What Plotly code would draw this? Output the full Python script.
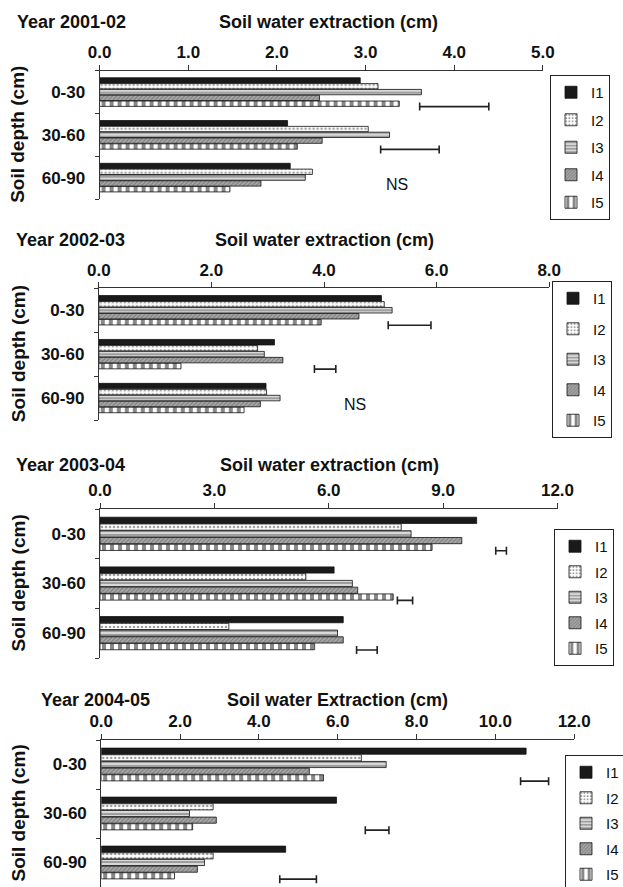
import plotly.graph_objects as go

# ---------------- data ----------------
depths = ["0-30", "30-60", "60-90"]
treatments = ["I1", "I2", "I3", "I4", "I5"]

# Year 2001-02 (cm) per treatment, depths 0-30, 30-60, 60-90
y0102_I1 = [2.94, 2.12, 2.15]
y0102_I2 = [3.14, 3.03, 2.40]
y0102_I3 = [3.63, 3.27, 2.32]
y0102_I4 = [2.48, 2.51, 1.82]
y0102_I5 = [3.38, 2.23, 1.47]

# Year 2002-03
y0203_I1 = [5.02, 3.12, 2.97]
y0203_I2 = [5.07, 2.82, 2.98]
y0203_I3 = [5.21, 2.94, 3.22]
y0203_I4 = [4.62, 3.27, 2.87]
y0203_I5 = [3.95, 1.46, 2.58]

# Year 2003-04
y0304_I1 = [9.88, 6.14, 6.38]
y0304_I2 = [7.90, 5.40, 3.38]
y0304_I3 = [8.16, 6.62, 6.23]
y0304_I4 = [9.49, 6.76, 6.38]
y0304_I5 = [8.71, 7.69, 5.63]

# Year 2004-05
y0405_I1 = [10.78, 5.97, 4.68]
y0405_I2 = [6.60, 2.84, 2.84]
y0405_I3 = [7.23, 2.24, 2.62]
y0405_I4 = [5.28, 2.92, 2.44]
y0405_I5 = [5.64, 2.32, 1.86]

# LSD bars (start, end) per depth index
lsd0102_depth = [0, 1]
lsd0102_lo = [3.61, 3.17]
lsd0102_hi = [4.39, 3.83]
lsd0203_depth = [0, 1]
lsd0203_lo = [5.14, 3.83]
lsd0203_hi = [5.90, 4.21]
lsd0304_depth = [0, 1, 2]
lsd0304_lo = [10.38, 7.80, 6.73]
lsd0304_hi = [10.66, 8.20, 7.27]
lsd0405_depth = [0, 1, 2]
lsd0405_lo = [10.64, 6.70, 4.53]
lsd0405_hi = [11.35, 7.30, 5.46]

# NS labels (x value, depth index)
ns0102 = (3.35, 2)
ns0203 = (4.55, 2)

year_labels = ["Year 2001-02", "Year 2002-03", "Year 2003-04", "Year 2004-05"]
x_titles = ["Soil water extraction (cm)", "Soil water extraction (cm)",
            "Soil water extraction (cm)", "Soil water Extraction (cm)"]
x_max = [5.0, 8.0, 12.0, 12.0]
x_dtick = [1.0, 2.0, 3.0, 2.0]

panels = [
    dict(vals=[y0102_I1, y0102_I2, y0102_I3, y0102_I4, y0102_I5],
         lsd=(lsd0102_depth, lsd0102_lo, lsd0102_hi), ns=ns0102),
    dict(vals=[y0203_I1, y0203_I2, y0203_I3, y0203_I4, y0203_I5],
         lsd=(lsd0203_depth, lsd0203_lo, lsd0203_hi), ns=ns0203),
    dict(vals=[y0304_I1, y0304_I2, y0304_I3, y0304_I4, y0304_I5],
         lsd=(lsd0304_depth, lsd0304_lo, lsd0304_hi), ns=None),
    dict(vals=[y0405_I1, y0405_I2, y0405_I3, y0405_I4, y0405_I5],
         lsd=(lsd0405_depth, lsd0405_lo, lsd0405_hi), ns=None),
]

# ---------------- layout geometry (pixels) ----------------
W, H = 623, 887
FONT = "Liberation Sans, Arial, sans-serif"
# (x_left, x_right, y_top, y_bottom) of each plot area
boxes = [(99.6, 542.9, 70.7, 199), (98.8, 549.2, 288.3, 420),
         (100, 557.5, 509, 658), (101.2, 574.2, 740, 887)]
title_y = [22, 240, 465, 700]
title_cx = [328.6, 324, 330, 337]
year_x = [15, 14, 14, 39]
# legend (left, top, item gap)
legend_pos = [(550, 75, 5), (552, 281, 8), (554, 529, 3), (565, 755, 3)]

patterns = [
    dict(shape=""),
    dict(shape=".", fgcolor="#444444", bgcolor="#ffffff", size=4, solidity=0.35),
    dict(shape="-", fgcolor="#555555", bgcolor="#d8d8d8", size=4, solidity=0.45),
    dict(shape="/", fgcolor="#555555", bgcolor="#a8a8a8", size=3, solidity=0.4),
    dict(shape="|", fgcolor="#111111", bgcolor="#ffffff", size=8, solidity=0.5),
]
colors = ["#1a1a1a", "#ffffff", "#d8d8d8", "#a8a8a8", "#ffffff"]

fig = go.Figure()
annotations = []
layout = dict()

for p, panel in enumerate(panels):
    k = "" if p == 0 else str(p + 1)
    xa, ya = "x" + k, "y" + k
    lg = "legend" + k
    x0, x1, yt, yb = boxes[p]
    for t, name in enumerate(treatments):
        fig.add_trace(go.Bar(
            x=panel["vals"][t], y=list(range(len(depths))), orientation="h",
            name=name, xaxis=xa, yaxis=ya, legend=lg, legendgroup=f"p{p}{name}",
            marker=dict(color=colors[t], pattern=patterns[t],
                        line=dict(color="#111111", width=0.8)),
            showlegend=True,
        ))
    dep, lo, hi = panel["lsd"]
    fig.add_trace(go.Scatter(
        x=[(a + b) / 2 for a, b in zip(lo, hi)],
        y=[d + 0.34 for d in dep],
        mode="markers", marker=dict(size=1, color="rgba(0,0,0,0)"),
        error_x=dict(type="data", symmetric=True,
                     array=[(b - a) / 2 for a, b in zip(lo, hi)],
                     color="#222222", thickness=1.6, width=4),
        xaxis=xa, yaxis=ya, showlegend=False, hoverinfo="skip",
    ))
    if panel["ns"] is not None:
        annotations.append(dict(text="NS", x=panel["ns"][0], y=panel["ns"][1] + 0.15,
                                xref=xa, yref=ya, showarrow=False,
                                font=dict(family=FONT, size=16, color="#111")))

    layout["xaxis" + k] = dict(
        domain=[x0 / W, x1 / W], anchor=ya, side="top", range=[0, x_max[p]],
        dtick=x_dtick[p], tick0=0, tickformat=".1f", showline=True, linecolor="#333",
        linewidth=1, ticks="outside", ticklen=5, tickcolor="#333", showgrid=False,
        zeroline=False, automargin=False,
        tickfont=dict(family=FONT, size=17, color="#111", weight="bold"),
    )
    layout["yaxis" + k] = dict(
        domain=[1 - yb / H, 1 - yt / H], anchor=xa, range=[2.5, -0.5],
        tickvals=list(range(len(depths))), ticktext=depths, ticks="",
        ticklabelstandoff=10, showline=True, linecolor="#333", linewidth=1,
        showgrid=False, zeroline=False, automargin=False,
        minor=dict(tickvals=[-0.5, 0.5, 1.5, 2.5], ticks="outside", ticklen=4,
                   tickcolor="#333", showgrid=False),
        tickfont=dict(family=FONT, size=17, color="#111", weight="bold"),
    )
    lx, ly, gap = legend_pos[p]
    layout[lg] = dict(x=lx / W, y=1 - ly / H, xanchor="left", yanchor="top",
                      xref="paper", yref="paper",
                      bordercolor="#222", borderwidth=1, bgcolor="white",
                      tracegroupgap=gap, itemwidth=30,
                      font=dict(family=FONT, size=15, color="#111"))
    annotations.append(dict(text=year_labels[p], x=year_x[p] / W, y=1 - title_y[p] / H,
                            xref="paper", yref="paper", xanchor="left", yanchor="middle",
                            showarrow=False,
                            font=dict(family=FONT, size=18, color="#111", weight="bold")))
    annotations.append(dict(text=x_titles[p], x=title_cx[p] / W, y=1 - title_y[p] / H,
                            xref="paper", yref="paper", xanchor="center", yanchor="middle",
                            showarrow=False,
                            font=dict(family=FONT, size=18, color="#111", weight="bold")))
    annotations.append(dict(text="Soil depth (cm)", x=18 / W, y=1 - (yt + yb) / 2 / H,
                            xref="paper", yref="paper", xanchor="center", yanchor="middle",
                            textangle=-90, showarrow=False,
                            font=dict(family=FONT, size=19, color="#111", weight="bold")))

fig.update_layout(
    width=W, height=H, margin=dict(l=0, r=0, t=0, b=0, autoexpand=False),
    paper_bgcolor="white", plot_bgcolor="white",
    barmode="group", bargap=0.32, bargroupgap=0.08,
    annotations=annotations, **layout,
)

fig.write_html("out.html")
